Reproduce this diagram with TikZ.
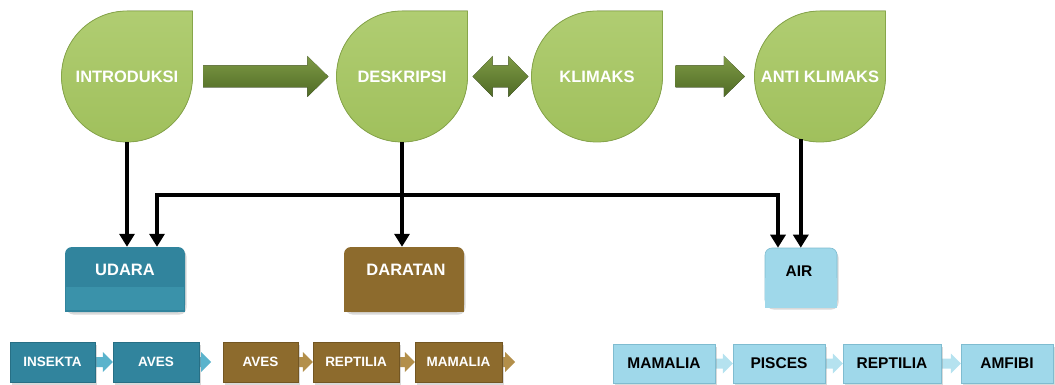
\documentclass[tikz,border=0pt]{standalone}
\usepackage{fontspec}
\setmainfont{Liberation Sans}
\usetikzlibrary{arrows.meta,calc,shadows,backgrounds}
\definecolor{dropA}{HTML}{B0CD72}
\definecolor{dropB}{HTML}{A0C05C}
\definecolor{dropE}{HTML}{87A64A}
\definecolor{barA}{HTML}{7E9A45}
\definecolor{barB}{HTML}{4F6A25}
\definecolor{tealB}{HTML}{31849D}
\definecolor{tealL}{HTML}{3A92AA}
\definecolor{tealE}{HTML}{276F85}
\definecolor{tealA}{HTML}{5AB3CC}
\definecolor{brownB}{HTML}{8D6B2D}
\definecolor{brownE}{HTML}{735622}
\definecolor{brownA}{HTML}{B38F4A}
\definecolor{skyB}{HTML}{9FD8EA}
\definecolor{skyA}{HTML}{B5E2EF}
\definecolor{skyE}{HTML}{7FBCD0}
\newcommand\teardrop[2]{\fill[drop] (#1,{#2-65.5}) -- ({#1+65.5},{#2-65.5}) -- ({#1+65.5},#2) arc[start angle=0,end angle=270,radius=65.5] -- cycle;}
\newcommand\bigarrow[4]{%
  \coordinate (ba1) at ($(#1.east)+(#3,0)$);
  \coordinate (ba2) at ($(#2.west)+(-#4,0)$);
  \fill[bigarr] ($(ba1)+(0,-11)$) -- ($(ba2)+(-21,-11)$) -- ($(ba2)+(-21,-20.5)$) -- (ba2)
    -- ($(ba2)+(-21,20.5)$) -- ($(ba2)+(-21,11)$) -- ($(ba1)+(0,11)$) -- cycle;}
\newcommand\dblarrow[4]{%
  \coordinate (da1) at ($(#1.east)+(#3,0)$);
  \coordinate (da2) at ($(#2.west)+(-#4,0)$);
  \fill[bigarr] (da1) -- ($(da1)+(20,-20.5)$) -- ($(da1)+(20,-11)$) -- ($(da2)+(-20,-11)$)
    -- ($(da2)+(-20,-20.5)$) -- (da2) -- ($(da2)+(-20,20.5)$) -- ($(da2)+(-20,11)$)
    -- ($(da1)+(20,11)$) -- ($(da1)+(20,20.5)$) -- cycle;}
\newcommand\smallarr[3]{\fill[#1] ($(#2)+(-3,-5)$) -- ($(#3)+(-10,-5)$) -- ($(#3)+(-10,-10)$) -- (#3)
    -- ($(#3)+(-10,10)$) -- ($(#3)+(-10,5)$) -- ($(#2)+(-3,5)$) -- cycle;}
\begin{document}
\begin{tikzpicture}[x=1pt,y=-1pt,
  drop/.style={top color=dropA,bottom color=dropB,draw=dropE,line width=0.8pt},
  droptext/.style={circle,minimum size=131pt,inner sep=0pt,text=white,font=\bfseries\fontsize{16.5}{19}\selectfont},
  bigarr/.style={top color=barA,bottom color=barB},
  shadowed/.style={drop shadow={opacity=0.3,shadow xshift=1.5pt,shadow yshift=-2.5pt}},
  bigbox/.style={rectangle,rounded corners=7pt,inner sep=0pt,shadowed},
  bigtxt/.style={inner sep=0pt,font=\bfseries\fontsize{16.5}{19}\selectfont,text=white},
  sbox/.style={rectangle,inner sep=0pt,minimum height=40pt,fill=#1,shadowed,
    text=white,font=\bfseries\fontsize{13.5}{16}\selectfont},
  lbox/.style={rectangle,inner sep=0pt,minimum height=39pt,fill=skyB,draw=skyE,shadowed,
    text=black,font=\bfseries\fontsize{15.5}{18}\selectfont},
  conn/.style={line width=4pt,-{Triangle[length=13pt,width=15pt]}},
  conn2/.style={line width=4pt,{Triangle[length=13pt,width=15pt]}-{Triangle[length=13pt,width=15pt]}}
]
\useasboundingbox (0,0) rectangle (1055,385);
% teardrops
\teardrop{127}{76.5}
\teardrop{402}{76.5}
\teardrop{597}{76.5}
\teardrop{820}{76.5}
\node[droptext] (intro) at (127,76.5) {INTRODUKSI};
\node[droptext] (desk) at (402,76.5) {DESKRIPSI};
\node[droptext] (klim) at (597,76.5) {KLIMAKS};
\node[droptext] (anti) at (820,76.5) {ANTI KLIMAKS};
% block arrows
\bigarrow{intro}{desk}{10.5}{8}
\dblarrow{desk}{klim}{5}{3}
\bigarrow{klim}{anti}{13}{9.5}
% category boxes
\node[bigbox,fill=tealB,minimum width=120pt,minimum height=65pt] (udara) at (125,279.5) {};
\fill[tealB] (udara.west) rectangle (udara.south east);
\fill[tealL] ($(udara.south west)+(1,-25)$) rectangle ($(udara.south east)+(-1,-2)$);
\node[bigtxt] (udaraT) at ($(udara.north)+(0,23)$) {UDARA};
\node[bigbox,fill=brownB,minimum width=120pt,minimum height=65pt] (daratan) at (404,279.5) {};
\fill[brownB] (daratan.west) rectangle (daratan.south east);
\node[bigtxt] (daratanT) at ($(daratan.north)+(2,23)$) {DARATAN};
\node[bigbox,fill=skyB,draw=skyE,line width=0.6pt,minimum width=72pt,minimum height=59pt] (air) at (801,277.5) {};
\fill[skyB] ($(air.west)+(0.3,0)$) rectangle ($(air.south east)+(-0.3,0.3)$);
\node[bigtxt,text=black,font=\bfseries\fontsize{15.5}{18}\selectfont] (airT) at ($(air.north)+(-2,23)$) {AIR};
% connectors
\draw[conn] (intro.south) -- (intro.south |- udara.north);
\draw[conn] (desk.south) -- (desk.south |- daratan.north);
\draw[conn] (anti.253) -- (anti.253 |- air.north);
\draw[conn2] ($(udara.north)+(32,0)$) -- ++(0,-52) -| ($(air.north)+(-23,0)$);
% bottom row
\node[sbox=tealB,draw=tealE,minimum width=85pt] (insekta) at (52.5,362) {INSEKTA};
\node[sbox=tealB,draw=tealE,minimum width=86pt] (avesA) at (156,362) {AVES};
\node[sbox=brownB,draw=brownE,minimum width=75pt] (avesB) at (260.5,362) {AVES};
\node[sbox=brownB,draw=brownE,minimum width=86pt] (reptA) at (356,362) {REPTILIA};
\node[sbox=brownB,draw=brownE,minimum width=87pt] (mamA) at (458.5,362) {MAMALIA};
\node[lbox,minimum width=102pt] (mamB) at (664,363.5) {MAMALIA};
\node[lbox,minimum width=92pt] (pisces) at (779,363.5) {PISCES};
\node[lbox,minimum width=98pt] (reptB) at (892,363.5) {REPTILIA};
\node[lbox,minimum width=92pt] (amfibi) at (1007,363.5) {AMFIBI};
\coordinate (tailA) at (211,362);
\coordinate (tailB) at (515,362);
\begin{scope}[on background layer]
\smallarr{tealA}{insekta.east}{avesA.west}
\smallarr{tealA}{avesA.east}{tailA}
\smallarr{brownA}{avesB.east}{reptA.west}
\smallarr{brownA}{reptA.east}{mamA.west}
\smallarr{brownA}{mamA.east}{tailB}
\smallarr{skyA}{mamB.east}{pisces.west}
\smallarr{skyA}{pisces.east}{reptB.west}
\smallarr{skyA}{reptB.east}{amfibi.west}
\end{scope}
\end{tikzpicture}
\end{document}
